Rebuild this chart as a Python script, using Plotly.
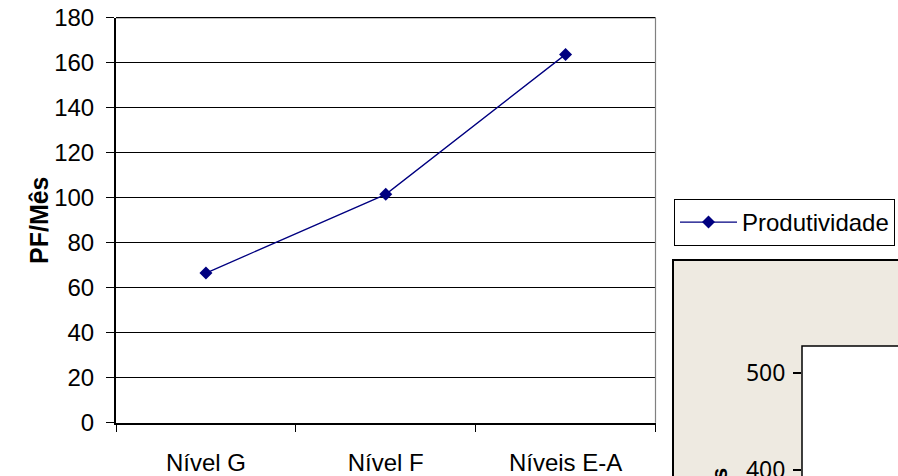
import plotly.graph_objects as go

# Productivity (function points per month) by maturity level
niveis = ["Nível G", "Nível F", "Níveis E-A"]
produtividade = [66.5, 101.5, 163.7]
serie_nome = "Produtividade"

y_ticks = [0, 20, 40, 60, 80, 100, 120, 140, 160, 180]
y2_ticks = [400, 500]

W, H = 898, 476


def px(x):
    return x / W


def py(y):
    return 1 - y / H


NAVY = "#000080"
TXT = dict(family="Liberation Sans, Arial, sans-serif", size=24, color="black")

fig = go.Figure()

fig.add_trace(go.Scatter(
    x=niveis, y=produtividade, name=serie_nome,
    mode="lines+markers",
    line=dict(color=NAVY, width=1.3),
    marker=dict(symbol="diamond", size=10, color=NAVY),
    xaxis="x", yaxis="y",
))

# second chart panel (only its upper-left corner is on the page)
fig.add_trace(go.Scatter(
    x=[], y=[], mode="markers", showlegend=False,
    xaxis="x2", yaxis="y2",
))

fig.update_layout(
    width=W, height=H,
    margin=dict(l=0, r=0, t=0, b=0, autoexpand=False),
    paper_bgcolor="white",
    plot_bgcolor="white",
    font=TXT,
    xaxis=dict(
        domain=[px(116), px(655.5)],
        type="category",
        range=[-0.5, 2.5],
        showline=True, linecolor="black", linewidth=2,
        ticks="outside", tickson="boundaries", ticklen=7,
        tickcolor="black", tickwidth=1,
        ticklabelstandoff=17,
        showgrid=False, zeroline=False,
        tickfont=TXT,
    ),
    yaxis=dict(
        domain=[py(422.7), py(17.7)],
        range=[0, 180],
        tickvals=y_ticks,
        showline=True, linecolor="black", linewidth=2,
        ticks="outside", ticklen=8, tickcolor="black", tickwidth=1,
        ticklabelstandoff=7,
        showgrid=True, gridcolor="black", gridwidth=1,
        zeroline=False,
        tickfont=TXT,
    ),
    xaxis2=dict(
        domain=[px(802), 1], anchor="y2",
        visible=False, range=[0, 1],
    ),
    yaxis2=dict(
        domain=[0, py(346)], anchor="x2",
        range=[393.8, 528.2],
        tickvals=y2_ticks,
        showline=False, showgrid=False, zeroline=False,
        ticks="outside", ticklen=8, tickcolor="black", tickwidth=1.5,
        ticklabelstandoff=3, ticklabeloverflow="allow",
        tickfont=dict(family="Noto Sans, DejaVu Sans, sans-serif", size=23, color="black"),
    ),
    legend=dict(
        x=px(674), y=py(199), xanchor="left", yanchor="top",
        bgcolor="white", bordercolor="black", borderwidth=1,
        font=TXT, itemwidth=57, entrywidth=260,
    ),
    showlegend=True,
)

shapes = [
    # top edge of the main plot area (180 gridline)
    dict(type="line", xref="paper", yref="paper",
         x0=px(116), x1=px(655.5), y0=py(17.7), y1=py(17.7),
         line=dict(color="black", width=1.2)),
    # right edge of the main plot area
    dict(type="line", xref="paper", yref="paper",
         x0=px(655.5), x1=px(655.5), y0=py(422.7), y1=py(17.7),
         line=dict(color="#808080", width=1.2)),
    # beige panel of the second chart
    dict(type="rect", xref="paper", yref="paper", layer="below",
         x0=px(673), x1=1.3, y0=-0.3, y1=py(260),
         fillcolor="#EEEAE1", line=dict(color="black", width=2)),
    # white plot area of the second chart
    dict(type="rect", xref="paper", yref="paper", layer="below",
         x0=px(802), x1=1.3, y0=-0.3, y1=py(346),
         fillcolor="white", line=dict(color="black", width=1.5)),
]
fig.update_layout(shapes=shapes)

fig.add_annotation(
    text="<b>PF/Mês</b>", textangle=-90,
    xref="paper", yref="paper", x=px(23), y=py(220),
    showarrow=False, font=dict(family="Liberation Sans, Arial, sans-serif", size=25, color="black"),
)

# bold axis title of the second chart, mostly below the page edge
fig.add_annotation(
    text="<b>s</b>", textangle=-90,
    xref="paper", yref="paper", x=px(719), y=py(466),
    xanchor="center", yanchor="top",
    showarrow=False, font=dict(family="Liberation Sans, Arial, sans-serif", size=22, color="black"),
)

fig.write_html("out.html")
